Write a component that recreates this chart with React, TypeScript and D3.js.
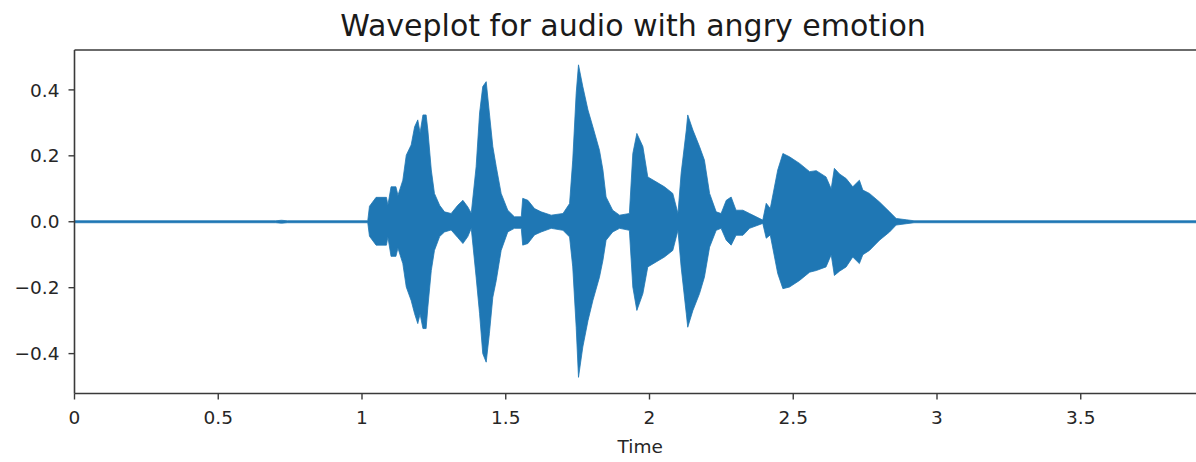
import React from "react";
import * as d3 from "d3";

const times = [0, 0.70, 0.72, 0.74, 1.020, 1.026, 1.049, 1.085, 1.090, 1.101, 1.118, 1.125, 1.142, 1.154, 1.171, 1.183, 1.194, 1.202, 1.212, 1.223, 1.229, 1.241, 1.252, 1.270, 1.287, 1.310, 1.333, 1.351, 1.368, 1.380, 1.397, 1.409, 1.420, 1.432, 1.443, 1.455, 1.467, 1.484, 1.507, 1.530, 1.554, 1.559, 1.577, 1.600, 1.623, 1.658, 1.699, 1.722, 1.733, 1.745, 1.753, 1.768, 1.786, 1.803, 1.826, 1.838, 1.849, 1.872, 1.896, 1.930, 1.942, 1.956, 1.977, 1.994, 2.023, 2.052, 2.081, 2.099, 2.110, 2.128, 2.133, 2.151, 2.174, 2.191, 2.209, 2.232, 2.249, 2.267, 2.284, 2.301, 2.325, 2.348, 2.394, 2.406, 2.420, 2.446, 2.464, 2.487, 2.522, 2.557, 2.580, 2.614, 2.632, 2.643, 2.661, 2.684, 2.707, 2.730, 2.742, 2.765, 2.800, 2.835, 2.858, 2.893, 2.920, 4.0];

const upper = [0.003, 0.003, 0.0045, 0.003, 0.003, 0.047, 0.074, 0.074, 0.05, 0.106, 0.106, 0.08, 0.126, 0.202, 0.233, 0.288, 0.309, 0.27, 0.324, 0.324, 0.278, 0.157, 0.086, 0.05, 0.03, 0.025, 0.05, 0.065, 0.045, 0.026, 0.167, 0.33, 0.41, 0.425, 0.33, 0.228, 0.167, 0.086, 0.035, 0.015, 0.015, 0.071, 0.065, 0.04, 0.03, 0.02, 0.025, 0.055, 0.187, 0.39, 0.476, 0.41, 0.339, 0.288, 0.217, 0.157, 0.075, 0.035, 0.02, 0.025, 0.207, 0.268, 0.228, 0.136, 0.121, 0.106, 0.086, 0.025, 0.147, 0.278, 0.324, 0.278, 0.228, 0.187, 0.086, 0.03, 0.025, 0.065, 0.075, 0.035, 0.035, 0.025, 0.005, 0.056, 0.04, 0.157, 0.207, 0.197, 0.177, 0.152, 0.155, 0.136, 0.10, 0.162, 0.145, 0.131, 0.106, 0.126, 0.096, 0.086, 0.06, 0.03, 0.01, 0.006, 0.003, 0.003];

const lower = [-0.003, -0.003, -0.0045, -0.003, -0.003, -0.044, -0.071, -0.071, -0.046, -0.105, -0.105, -0.08, -0.127, -0.198, -0.239, -0.279, -0.309, -0.28, -0.324, -0.324, -0.259, -0.148, -0.087, -0.045, -0.031, -0.025, -0.048, -0.066, -0.045, -0.02, -0.168, -0.279, -0.40, -0.426, -0.34, -0.229, -0.178, -0.087, -0.031, -0.02, -0.02, -0.071, -0.066, -0.04, -0.031, -0.02, -0.026, -0.046, -0.137, -0.32, -0.472, -0.38, -0.30, -0.239, -0.168, -0.117, -0.056, -0.031, -0.02, -0.026, -0.198, -0.269, -0.218, -0.137, -0.122, -0.107, -0.087, -0.026, -0.137, -0.279, -0.32, -0.269, -0.218, -0.168, -0.077, -0.026, -0.02, -0.056, -0.071, -0.041, -0.041, -0.02, -0.005, -0.05, -0.04, -0.157, -0.203, -0.198, -0.178, -0.153, -0.148, -0.137, -0.10, -0.163, -0.15, -0.137, -0.107, -0.127, -0.1, -0.087, -0.056, -0.031, -0.01, -0.006, -0.003, -0.003];

const xTicks = [0, 0.5, 1, 1.5, 2, 2.5, 3, 3.5];
const yTicks = [0.4, 0.2, 0.0, -0.2, -0.4];
const title = "Waveplot for audio with angry emotion";
const xLabel = "Time";

const W = 1196;
const H = 462;
const left = 74.5;
const top = 50;
const bottom = 393.5;
const pxPerSec = 287.5;
const FONT = "'DejaVu Sans', sans-serif";
const SPINE = "#3a3a3a";

export default function App() {
  const x = d3.scaleLinear().domain([0, 4]).range([left, left + 4 * pxPerSec]);
  const y = d3.scaleLinear().domain([-0.521, 0.521]).range([bottom, top]);
  const data = times.map((t, i) => ({ t, u: upper[i], l: lower[i] }));
  const area = d3
    .area<{ t: number; u: number; l: number }>()
    .x((d) => x(d.t))
    .y0((d) => y(d.l))
    .y1((d) => y(d.u))
    .curve(d3.curveLinear);

  const fmtY = (v: number) => (v < 0 ? "\u2212" : "") + Math.abs(v).toFixed(1);
  const fmtX = (v: number) => String(v);

  return (
    <svg
      width={W}
      height={H}
      style={{ position: "absolute", left: 0, top: 0, display: "block", background: "#fff" }}
      fontFamily={FONT}
    >
      <rect x={0} y={0} width={W} height={H} fill="#fff" />
      <path d={area(data) || ""} fill="#1f77b4" stroke="#1f77b4" strokeWidth={0.8} />
      <line x1={left} x2={W} y1={top} y2={top} stroke={SPINE} strokeWidth={1.6} />
      <line x1={left} x2={W} y1={bottom} y2={bottom} stroke={SPINE} strokeWidth={1.6} />
      <line x1={left} x2={left} y1={top} y2={bottom} stroke={SPINE} strokeWidth={1.6} />
      {yTicks.map((v) => (
        <g key={"y" + v}>
          <line x1={left - 6} x2={left} y1={y(v)} y2={y(v)} stroke={SPINE} strokeWidth={1.4} />
          <text x={left - 15} y={y(v)} dy="0.36em" textAnchor="end" fontSize={18.5} fill="#262626">
            {fmtY(v)}
          </text>
        </g>
      ))}
      {xTicks.map((v) => (
        <g key={"x" + v}>
          <line x1={x(v)} x2={x(v)} y1={bottom} y2={bottom + 6} stroke={SPINE} strokeWidth={1.4} />
          <text x={x(v)} y={424} textAnchor="middle" fontSize={18.5} fill="#262626">
            {fmtX(v)}
          </text>
        </g>
      ))}
      <text x={(left + 1196 + 10) / 2} y={453} textAnchor="middle" fontSize={18.5} fill="#262626">
        {xLabel}
      </text>
      <text x={633} y={36} textAnchor="middle" fontSize={30} fill="#1a1a1a">
        {title}
      </text>
    </svg>
  );
}
